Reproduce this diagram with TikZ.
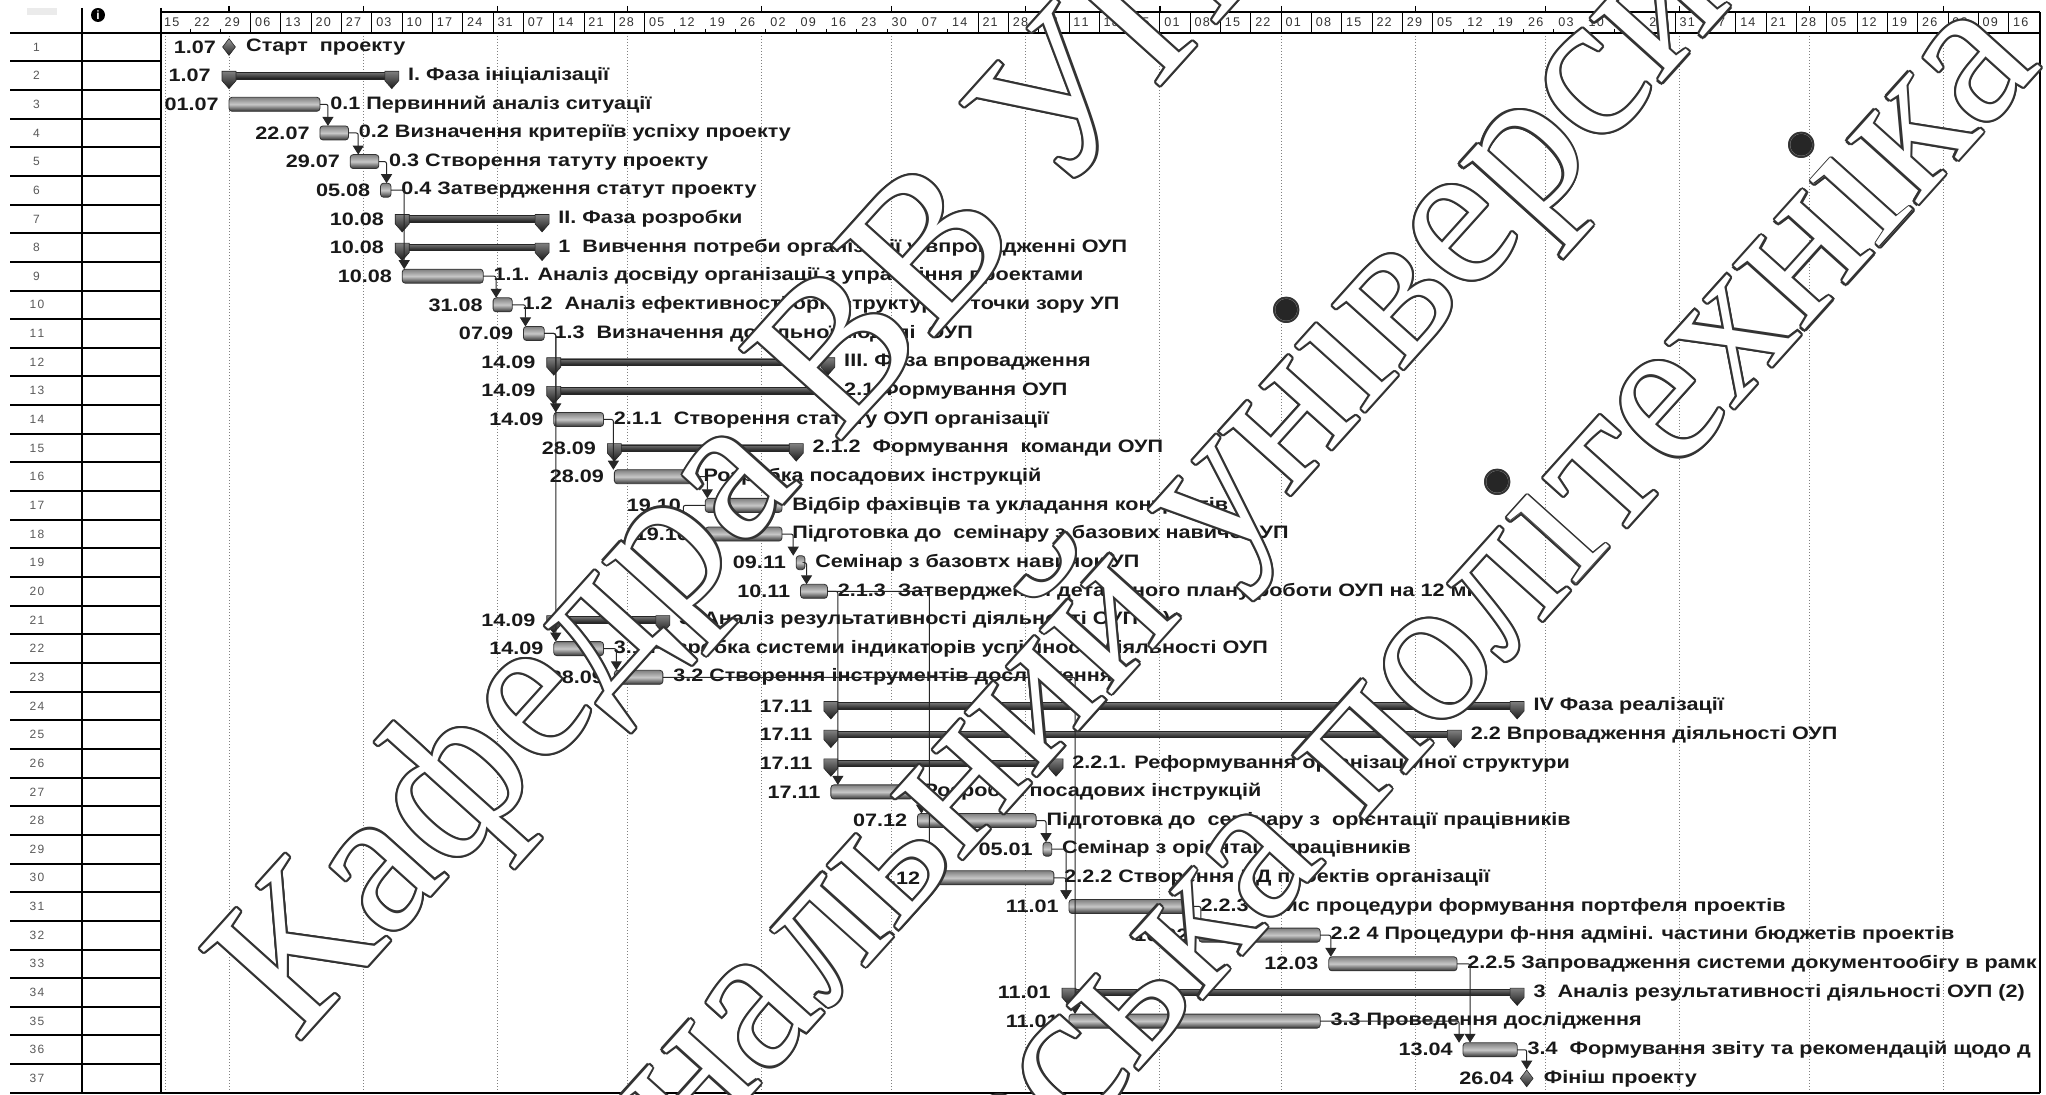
\documentclass[tikz,border=0pt]{standalone}
\usepackage{fontspec}
\usetikzlibrary{arrows.meta,shapes.geometric}
\newfontfamily\gf{Liberation Sans}[FakeStretch=1.2]
\newfontfamily\hf{Liberation Sans}
\newfontfamily\wf{Liberation Serif}
\newcommand\spl[2]{#1\kern0.6pt#2}
\newcommand\gtask[7][-5pt]{%
  \node[tbar, tw={#5-#4}] (#2) at ({dx(#4)},{ry(#3)}) {};
  \node[lab, anchor=east] (#2d) at ([xshift=#1]#2.west) {#6};
  \node[lab, anchor=west] (#2n) at ([xshift=5pt]#2.east) {#7};}
\newcommand\gsum[6]{%
  \node[sbar, tw={#4-#3}] (#1) at ({dx(#3)},{ry(#2)}) {};
  \pic at (#1.west) {sumcap}; \pic at (#1.east) {sumcap};
  \node[lab, anchor=east] (#1d) at ([xshift=-9pt]#1.west) {#5};
  \node[lab, anchor=west] (#1n) at ([xshift=8pt]#1.east) {#6};}
\newcommand\gmile[5]{%
  \node[mst] (#1) at ({dx(#3)},{ry(#2)}) {};
  \node[lab, anchor=east] (#1d) at ([xshift=-3pt]#1.west) {#4};
  \node[lab, anchor=west] (#1n) at ([xshift=5pt]#1.east) {#5};}
\newcommand\wmark[4]{%
  \foreach \a in {0,30,...,330}
    \node[wm, text=black!80] (#1c\a) at ([shift={(\a:1.1pt)}]#2,#3) {#4};
  \node[wm, text=white] (#1) at (#2,#3) {#4};}
\newcommand\wdots[5]{%
  \node[wm, text=black!85] (#1d) at (#2,#3) {#4};
  \node[wm, text=white] (#1s) at (#2,#3) {#5};}
\begin{document}
\begin{tikzpicture}[x=0.5pt,y=-0.5pt,
  declare function={dx(\d)=229+4.33*\d; ry(\k)=47+28.65*(\k-1);},
  lab/.style={font=\gf\bfseries\fontsize{9}{10}\selectfont, inner sep=0pt, text=black!90},
  hdr/.style={font=\hf\fontsize{6.3}{7}\selectfont, inner sep=0pt, text=black!80, anchor=west},
  rnum/.style={font=\hf\fontsize{6}{7}\selectfont, inner sep=0pt, text=black!65},
  tbar/.style={draw=black!80, line width=0.4pt, rounded corners=1.5pt, minimum height=7pt, inner sep=0pt, outer sep=0pt, anchor=west, top color=black!50, bottom color=black!80, middle color=black!22},
  tw/.style={minimum width={(#1)*2.165pt}},
  sbar/.style={draw=black!85, line width=0.3pt, minimum height=3.2pt, inner sep=0pt, outer sep=0pt, anchor=west, top color=black!55, bottom color=black!90},
  mst/.style={diamond, draw=black!85, line width=0.3pt, inner sep=0pt, minimum width=6.5pt, minimum height=8.5pt, top color=black!40, bottom color=black!85},
  link/.style={draw=black!85, line width=0.5pt, rounded corners=1pt, -{Triangle[width=5.5pt,length=4.5pt]}},
  wm/.style={font=\wf\fontsize{104}{110}\selectfont, inner sep=0pt, rotate=48},
  sumcap/.pic={\path[draw=black!85, line width=0.3pt, top color=black!50, bottom color=black!90] (-3.5pt,2.2pt) -- (3.5pt,2.2pt) -- (3.5pt,-2.5pt) -- (0,-6.5pt) -- (-3.5pt,-2.5pt) -- cycle;},
]
\useasboundingbox (0,0) rectangle (2046,1095);
\clip (0,0) rectangle (2046,1095);
\fill[white] (0,0) rectangle (2046,1095);

% ---------- left table ----------
\fill[black!8] (27,8) rectangle (57,15);
\node[circle, fill=black, inner sep=0pt, minimum size=7pt, font=\hf\bfseries\fontsize{6}{6}\selectfont, text=white] (info) at (98,15) {i};
\foreach \k in {1,...,36}
  \draw[line width=1pt] (10,{32.7+28.65*\k}) -- (161,{32.7+28.65*\k});
\foreach \k in {1,...,37}
  \node[rnum] (r\k) at (37,{ry(\k)}) {\expandafter\spl\k\relax};

% ---------- header ----------
\draw[line width=0.6pt] (161,12) -- (2040,12);
\foreach \m in {0,31,62,92,123,153,184,215,243,274,304,335,365,396}
  \draw[line width=0.6pt] ({dx(\m)},6) -- ({dx(\m)},12);
\foreach \w in {3,...,16} \draw[line width=0.5pt] ({dx(-16+7*\w)},12) -- ({dx(-16+7*\w)},33);
\foreach \w in {27,...,42} \draw[line width=0.5pt] ({dx(-16+7*\w)},12) -- ({dx(-16+7*\w)},33);
\foreach \w in {50,...,61} \draw[line width=0.5pt] ({dx(-16+7*\w)},12) -- ({dx(-16+7*\w)},33);
\foreach \w in {1,2} \draw[line width=0.5pt] ({dx(-16+7*\w)},29) -- ({dx(-16+7*\w)},33);
\foreach \w in {17,...,26} \draw[line width=0.5pt] ({dx(-16+7*\w)},29) -- ({dx(-16+7*\w)},33);
\foreach \w in {43,...,49} \draw[line width=0.5pt] ({dx(-16+7*\w)},29) -- ({dx(-16+7*\w)},33);
\foreach \lab [count=\w from 0] in {15,22,29,06,13,20,27,03,10,17,24,31,07,14,21,28,05,12,19,26,02,09,16,23,30,07,14,21,28,04,11,18,25,01,08,15,22,01,08,15,22,29,05,12,19,26,03,10,17,24,31,07,14,21,28,05,12,19,26,02,09,16}
  \node[hdr] (h\w) at ({dx(-16+7*\w)+4},22) {\expandafter\spl\lab};

% ---------- chart ----------
\begin{scope}
\clip (161,33) rectangle (2040,1093);
\draw[densely dotted, black!50, line width=0.5pt] (165,33) -- (165,1093);
\foreach \m in {0,31,62,92,123,153,184,215,243,274,304,335,365,396}
  \draw[densely dotted, black!50, line width=0.5pt] ({dx(\m)},33) -- ({dx(\m)},1093);

\gmile{m1}{1}{0}{1.07}{Старт~ проекту}
\gsum{s2}{2}{0}{37.6}{1.07}{I. Фаза ініціалізації}
\gtask{t3}{3}{0}{21}{01.07}{0.1 Первинний аналіз ситуації}
\gtask{t4}{4}{21}{27.6}{22.07}{0.2 Визначення критеріїв успіху проекту}
\gtask{t5}{5}{28}{34.6}{29.07}{0.3 Створення татуту проекту}
\gtask{t6}{6}{35}{37.4}{05.08}{0.4 Затвердження статут проекту}
\gsum{s7}{7}{40}{72.3}{10.08}{II. Фаза розробки}
\gsum{s8}{8}{40}{72.3}{10.08}{1~ Вивчення потреби організації у впровадженні ОУП}
\gtask{t9}{9}{40}{58.7}{10.08}{1.1. Аналіз досвіду організації з управління проектами}
\gtask{t10}{10}{61}{65.4}{31.08}{1.2~ Аналіз ефективності орг. структури з точки зору УП}
\gtask{t11}{11}{68}{72.8}{07.09}{1.3~ Визначення доцільної моделі~ ОУП}
\gsum{s12}{12}{75}{138.3}{14.09}{III. Фаза впровадження}
\gsum{s13}{13}{75}{138.3}{14.09}{2.1 Формування ОУП}
\gtask{t14}{14}{75}{86.5}{14.09}{2.1.1~ Створення статуту ОУП організації}
\gsum{s15}{15}{89}{131}{28.09}{2.1.2~ Формування~ команди ОУП}
\gtask{t16}{16}{89}{107.2}{28.09}{Розробка посадових інструкцій}
\gtask[-12pt]{t17}{17}{110}{127.7}{19.10}{Відбір фахівців та укладання контрактів}
\gtask[-8pt]{t18}{18}{110}{127.7}{19.10}{Підготовка до~ семінару з базових навичок УП}
\gtask{t19}{19}{131}{133}{09.11}{Семінар з базовтх навичок УП}
\gtask{t20}{20}{132}{138.2}{10.11}{2.1.3~ Затвердження детального плану роботи ОУП на 12 міс.}
\gsum{s21}{21}{75}{100.2}{14.09}{3~ Аналіз результативності діяльності ОУП (1)}
\gtask{t22}{22}{75}{86.5}{14.09}{3.1 Розробка системи індикаторів успішності діяльності ОУП}
\gtask{t23}{23}{89}{100.2}{28.09}{3.2 Створення інструментів дослідження}
\gsum{s24}{24}{139}{297.5}{17.11}{IV Фаза реалізації}
\gsum{s25}{25}{139}{283}{17.11}{2.2 Впровадження діяльності ОУП}
\gsum{s26}{26}{139}{191}{17.11}{2.2.1. Реформування організаційної структури}
\gtask{t27}{27}{139}{158}{17.11}{Розробка посадових інструкцій}
\gtask{t28}{28}{159}{186.4}{07.12}{Підготовка до~ семінару з~ орієнтації працівників}
\gtask{t29}{29}{188}{190}{05.01}{Семінар з орієнтації працівників}
\gtask{t30}{30}{162}{190.5}{10.12}{2.2.2 Створення БД проектів організації}
\gtask{t31}{31}{194}{222}{11.01}{2.2.3 Опис процедури формування портфеля проектів}
\gtask{t32}{32}{224}{252}{10.02}{2.2 4 Процедури ф-ння адміні. частини бюджетів проектів}
\gtask{t33}{33}{254}{283.6}{12.03}{2.2.5 Запровадження системи документообігу в рамк}
\gsum{s34}{34}{194}{297.5}{11.01}{3~ Аналіз результативності діяльності ОУП (2)}
\gtask{t35}{35}{194}{252}{11.01}{3.3 Проведення дослідження}
\gtask{t36}{36}{285}{297.5}{13.04}{3.4~ Формування звіту та рекомендацій щодо д}
\gmile{m37}{37}{299.7}{26.04}{Фініш проекту}

% links
\draw[link] (t3.east) -| ([xshift=4pt]t4.north west);
\draw[link] (t4.east) -| ([xshift=4pt]t5.north west);
\draw[link] (t5.east) -| ([xshift=3pt]t6.north west);
\draw[link] (t6.east) -| ([xshift=1pt]t9.north west);
\draw[link] (t9.east) -| ([xshift=1.5pt]t10.north west);
\draw[link] (t10.east) -| ([xshift=1pt]t11.north west);
\draw[link] (t11.east) -| ([xshift=1pt]t14.north west);
\draw[link] (t11.east) -| ([xshift=1pt]t22.north west);
\draw[link] (t14.east) -| ([xshift=-0.5pt]t16.north west);
\draw[link] (t16.east) -| ([xshift=1pt]t17.north west);
\draw[link] (t17.west) -- ++(-22,0) |- (t18.west);
\draw[link] (t18.east) -| ([xshift=-1.5pt]t19.north west);
\draw[link] (t19.east) -| ([xshift=3pt]t20.north west);
\draw[link] (t20.east) -| ([xshift=3.5pt]t27.north west);
\draw[link] (t20.east) -| ([xshift=-0.5pt]t30.north west);
\draw[link] (t22.east) -| ([xshift=1pt]t23.north west);
\draw[link] (t23.east) -| ([xshift=3pt]t35.north west);
\draw[link] (t27.east) -| ([xshift=2pt]t28.north west);
\draw[link] (t28.east) -| ([xshift=1.5pt]t29.north west);
\draw[link] (t29.east) -| ([xshift=-1.5pt]t31.north west);
\draw[link] (t30.east) -| ([xshift=-1.5pt]t31.north west);
\draw[link] (t31.east) -| ([xshift=1pt]t32.north west);
\draw[link] (t32.east) -| ([xshift=1pt]t33.north west);
\draw[link] (t33.east) -| ([xshift=3.5pt]t36.north west);
\draw[link] (t35.east) -| ([xshift=-2pt]t36.north west);
\draw[link] (t36.east) -| (m37.north);
\end{scope}

% ---------- frame ----------
\draw[line width=1pt] (10,33) -- (2040,33);
\draw[line width=1pt] (10,1093) -- (2040,1093);
\draw[line width=0.8pt] (82,8) -- (82,1093);
\draw[line width=0.8pt] (161,8) -- (161,1093);
\draw[line width=0.8pt] (2040,12) -- (2040,1093);

% ---------- watermark ----------
\wmark{wmA}{740}{478}{Кафедра ВВ УП}
\wmark{wmB}{1095}{640}{Національний університет}
\wdots{wmB}{1095}{640}{\phantom{Нац}і\phantom{ональний ун}і\phantom{верситет}}{\phantom{Нац}ı\phantom{ональний ун}ı\phantom{верситет}}
\wmark{wmC}{1345}{740}{Львівська політехніка}
\wdots{wmC}{1345}{740}{\phantom{Льв}і\phantom{вська пол}і\phantom{техн}і\phantom{ка}}{\phantom{Льв}ı\phantom{вська пол}ı\phantom{техн}ı\phantom{ка}}
\end{tikzpicture}
\end{document}
